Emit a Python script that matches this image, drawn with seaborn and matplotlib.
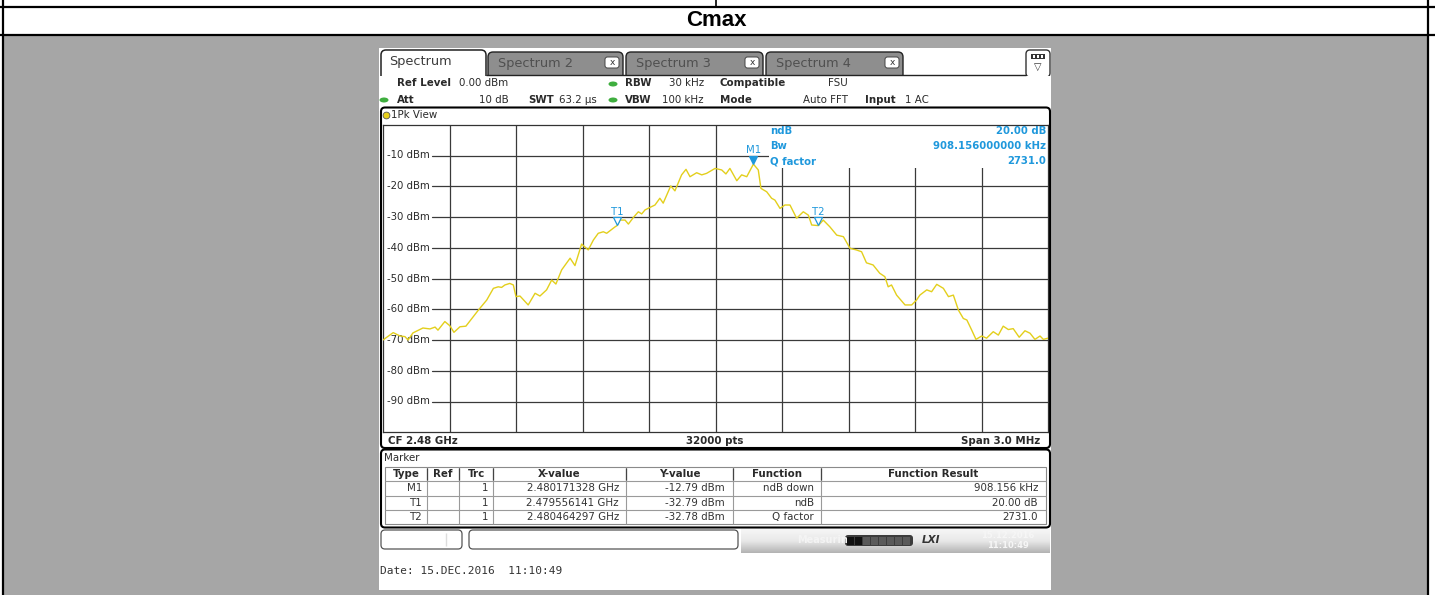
import matplotlib
matplotlib.use("Agg")
import matplotlib.pyplot as plt
import matplotlib.patches as mpatches
import matplotlib.transforms as mtransforms
import numpy as np
import seaborn as sns

# trace: offset from CF 2.48 GHz (kHz) and level (dBm)
freq_khz = [-1500, -1454, -1423, -1401, -1387, -1365, -1320, -1288, -1265, -1252,
            -1221, -1198, -1180, -1153, -1126, -1070, -1032, -1002, -980, -965,
            -950, -928, -912, -900, -882, -845, -814, -792, -762, -739,
            -720, -694, -656, -634, -604, -574, -551, -529, -506, -491,
            -453, -444, -431, -408, -393, -371, -348, -333, -318, -296,
            -273, -251, -236, -202, -183, -153, -133, -115, -85, -62,
            -40, -2, 28, 47, 65, 96, 118, 141, 171, 193,
            205, 231, 253, 268, 291, 313, 336, 366, 396, 419,
            434, 464, 486, 516, 547, 577, 607, 635, 659, 681,
            711, 741, 764, 779, 794, 817, 855, 885, 907, 922,
            953, 975, 998, 1028, 1051, 1073, 1096, 1118, 1134, 1156,
            1175, 1201, 1223, 1253, 1276, 1298, 1321, 1343, 1370, 1396,
            1419, 1441, 1464, 1479, 1500]
level_dbm = [-70.0, -67.6, -68.7, -68.9, -70.0, -67.7, -66.1, -66.4, -65.8, -66.8,
             -64.0, -65.4, -67.5, -65.7, -65.5, -60.3, -57.0, -53.2, -52.7, -52.9,
             -52.1, -51.6, -52.1, -55.9, -55.7, -58.6, -54.8, -55.7, -53.7, -50.5,
             -51.8, -47.2, -43.4, -45.8, -38.8, -40.7, -37.5, -35.3, -34.8, -35.3,
             -33.2, -32.8, -31.0, -31.0, -32.3, -30.2, -28.3, -29.0, -27.7, -26.9,
             -26.1, -23.9, -25.5, -19.9, -21.5, -16.3, -14.5, -16.9, -15.6, -16.3,
             -15.8, -14.2, -14.7, -16.0, -14.2, -18.2, -16.3, -16.9, -12.8, -14.7,
             -20.7, -21.8, -23.9, -24.5, -27.2, -26.1, -26.1, -30.4, -28.3, -29.4,
             -32.6, -32.8, -31.0, -33.2, -35.9, -36.4, -40.2, -40.7, -41.3, -44.9,
             -45.6, -48.3, -49.4, -52.7, -52.1, -55.4, -58.6, -58.6, -57.0, -55.4,
             -53.7, -54.3, -51.9, -53.2, -55.9, -55.4, -60.3, -63.0, -63.5, -66.8,
             -69.8, -68.7, -69.4, -67.3, -68.4, -65.5, -66.6, -66.3, -69.1, -67.0,
             -67.8, -69.8, -68.7, -69.8, -69.4]

x_grid_khz = [-1200, -900, -600, -300, 0, 300, 600, 900, 1200]
y_grid_dbm = [-10, -20, -30, -40, -50, -60, -70, -80, -90]

marker_names = ["M1", "T1", "T2"]
marker_khz = [171.328, -443.859, 464.297]
marker_dbm = [-12.79, -32.79, -32.78]
marker_filled = [True, False, False]

# marker table
tbl_headers = ["Type", "Ref", "Trc", "X-value", "Y-value", "Function", "Function Result"]
tbl_type = ["M1", "T1", "T2"]
tbl_ref = ["", "", ""]
tbl_trc = ["1", "1", "1"]
tbl_x = ["2.480171328 GHz", "2.479556141 GHz", "2.480464297 GHz"]
tbl_y = ["-12.79 dBm", "-32.79 dBm", "-32.78 dBm"]
tbl_func = ["ndB down", "ndB", "Q factor"]
tbl_result = ["908.156 kHz", "20.00 dB", "2731.0"]

info_names = ["ndB", "Bw", "Q factor"]
info_values = ["20.00 dB", "908.156000000 kHz", "2731.0"]

tab_names = ["Spectrum", "Spectrum 2", "Spectrum 3", "Spectrum 4"]

sns.set_style("white")
plt.rcParams["font.family"] = ["DejaVu Sans"]

W, H = 1435, 595
fig = plt.figure(figsize=(W / 100, H / 100), dpi=100)
fig.patch.set_facecolor("white")
bg = fig.add_axes([0, 0, 1, 1])
bg.set_xlim(0, W)
bg.set_ylim(H, 0)
bg.axis("off")
bg.set_zorder(0)

BLUE = "#1f98dc"
INK = "#2a2a2a"


def box(x0, y0, x1, y1, fc="white", ec="none", lw=1.0, r=0, z=1):
    if r:
        p = mpatches.FancyBboxPatch((x0, y0), x1 - x0, y1 - y0,
                                    boxstyle=f"round,pad=0,rounding_size={r}",
                                    fc=fc, ec=ec, lw=lw, zorder=z)
    else:
        p = mpatches.Rectangle((x0, y0), x1 - x0, y1 - y0, fc=fc, ec=ec, lw=lw, zorder=z)
    bg.add_patch(p)


def txt(x, y, s, size=7.4, weight="normal", color=INK, ha="left", family="DejaVu Sans", z=6, **kw):
    bg.text(x, y, s, fontsize=size, fontweight=weight, color=color, ha=ha, va="center",
            family=family, zorder=z, **kw)


def line(xs, ys, color="black", lw=1.0, z=3):
    bg.plot(xs, ys, color=color, lw=lw, zorder=z, solid_capstyle="butt")


# ---- document table around the screenshot ----
box(3, 36, 1428, 595, fc="#a6a6a6", z=0)
line([0, W], [7, 7], lw=1.6)
line([0, W], [35, 35], lw=1.6)
line([3, 3], [0, H], lw=1.6)
line([1428, 1428], [0, H], lw=1.6)
line([716, 716], [0, 7], lw=1.2)
txt(716, 21, "Cmax", size=16, weight="bold", color="black", ha="center",
    family="Liberation Sans")

# ---- screenshot canvas ----
box(379, 48, 1051, 590, fc="white", z=1)

# tabs
tab_x = [(381, 486), (488, 623), (626, 763), (766, 903)]
for i, (name, (a, b)) in enumerate(zip(tab_names, tab_x)):
    if i == 0:
        continue
    box(a, 52, b, 90, fc="#8e8e8e", ec="#222222", lw=1.0, r=5, z=2)
    txt(a + 10, 63, name, size=9.3, color="#505050", z=3)
    box(b - 18, 57, b - 4, 68, fc="white", ec="#444444", lw=0.7, r=2.5, z=3)
    txt(b - 11, 62.5, "x", size=6.5, color="#333333", ha="center", z=4)
a, b = tab_x[0]
box(a, 50, b, 90, fc="white", ec="#222222", lw=1.1, r=5, z=2.5)
txt(a + 8, 62, tab_names[0], size=9.3, color="#3c3c3c", z=3)
box(379.5, 75.6, 1050.5, 106, fc="white", z=4)
line([486, 1026], [75.3, 75.3], color="#222222", lw=1.0, z=4)
# menu icon
box(1026, 50, 1050, 77, fc="white", ec="#333333", lw=1.0, r=4, z=2)
box(1031, 54, 1045, 59, fc="#333333", z=3)
for k in range(3):
    box(1032.5 + 4 * k, 55.3, 1035 + 4 * k, 57.7, fc="white", z=3.5)
txt(1038, 67, "\u25bd", size=7, color="#333333", ha="center", z=3)

# settings header
for cx, cy in [(384, 100), (613, 84), (613, 100)]:
    bg.add_patch(mpatches.Ellipse((cx, cy), 9, 5, fc="#3fae3f", ec="none", zorder=6))
txt(397, 83.5, "Ref Level", weight="bold")
txt(459, 83.5, "0.00 dBm")
txt(625, 83.5, "RBW", weight="bold")
txt(704, 83.5, "30 kHz", ha="right")
txt(720, 83.5, "Compatible", weight="bold")
txt(848, 83.5, "FSU", ha="right")
txt(397, 100, "Att", weight="bold")
txt(509, 100, "10 dB", ha="right")
txt(528, 100, "SWT", weight="bold")
txt(559, 100, "63.2 \u00b5s")
txt(625, 100, "VBW", weight="bold")
txt(704, 100, "100 kHz", ha="right")
txt(720, 100, "Mode", weight="bold")
txt(848, 100, "Auto FFT", ha="right")
txt(865, 100, "Input", weight="bold")
txt(905, 100, "1 AC")

# diagram frame
box(381, 107.5, 1050, 448, fc="white", ec="black", lw=1.5, r=4, z=2)
bg.add_patch(mpatches.Circle((386.5, 115.5), 3.4, fc="#e6cf1a", ec="#555555", lw=0.6, zorder=6))
txt(391, 115.5, "1Pk View")
txt(388, 440.5, "CF 2.48 GHz", weight="bold")
txt(715, 440.5, "32000 pts", weight="bold", ha="center")
txt(1040, 440.5, "Span 3.0 MHz", weight="bold", ha="right")

# ---- trace diagram ----
ax = fig.add_axes([383 / W, 1 - 432.25 / H, 665 / W, 307.5 / H])
ax.set_zorder(1)
ax.set_facecolor("white")
for v in x_grid_khz:
    ax.axvline(v, color="#3a3a3a", lw=0.9, zorder=1)
for v in y_grid_dbm:
    ax.axhline(v, xmin=0.074, color="#3a3a3a", lw=0.9, zorder=1)
ax.add_patch(mpatches.Rectangle((0.58, 0.859), 0.42, 0.141, transform=ax.transAxes,
                                fc="white", ec="none", zorder=2))
lab_tr = mtransforms.blended_transform_factory(ax.transAxes, ax.transData)
for v in y_grid_dbm:
    ax.text(0.006, v, f"{v} dBm", transform=lab_tr, fontsize=7.3, color=INK,
            va="center", ha="left", zorder=3)

sns.lineplot(x=freq_khz, y=level_dbm, ax=ax, color="#e3cf1c", lw=1.0, zorder=4,
             estimator=None, sort=False)

tri_tr = mtransforms.offset_copy(ax.transData, fig=fig, x=0, y=4.5, units="dots")
for name, fx, fy, filled in zip(marker_names, marker_khz, marker_dbm, marker_filled):
    ax.plot([fx], [fy], marker="v", ms=5.5, mew=0.9, mec=BLUE,
            mfc=BLUE if filled else "white", transform=tri_tr, zorder=6, clip_on=False)
    ax.annotate(name, (fx, fy), xytext=(0, 10), textcoords="offset points",
                ha="center", va="center", fontsize=7.3, color=BLUE, zorder=6)

for k, (n, v) in enumerate(zip(info_names, info_values)):
    ax.text(770, 131 + 15 * k, n, transform=bg.transData, fontsize=7.3, fontweight="bold",
            color=BLUE, va="center", ha="left", zorder=6)
    ax.text(1046, 131 + 15 * k, v, transform=bg.transData, fontsize=7.3, fontweight="bold",
            color=BLUE, va="center", ha="right", zorder=6)

ax.set_xlim(-1500, 1500)
ax.set_ylim(-100, 0)
ax.set_xticks([])
ax.set_yticks([])
ax.set_xlabel("")
ax.set_ylabel("")
for s in ax.spines.values():
    s.set_color("#333333")
    s.set_linewidth(0.9)

# ---- marker table ----
box(381, 449.5, 1050, 527.5, fc="white", ec="black", lw=1.5, r=4, z=2)
txt(384, 458, "Marker")
box(385, 466.5, 1046, 523.5, fc="white", ec="#8a8a8a", lw=0.8, z=3)
for yy in [481, 495.5, 510]:
    line([385, 1046], [yy, yy], color="#9a9a9a", lw=0.8, z=4)
col_edges = [385, 427, 459, 493, 626, 733, 821, 1046]
for xx in col_edges[1:-1]:
    line([xx, xx], [466.5, 523.5], color="#9a9a9a", lw=0.8, z=4)
    line([xx, xx], [468, 480], color="#444444", lw=0.9, z=4)
for k, hname in enumerate(tbl_headers):
    txt((col_edges[k] + col_edges[k + 1]) / 2, 474, hname, weight="bold", ha="center")
row_y = [488, 502.5, 517]
cols = [tbl_type, tbl_ref, tbl_trc, tbl_x, tbl_y, tbl_func, tbl_result]
right_pad = [5, 5, 5, 7, 8, 7, 8]
for k, col in enumerate(cols):
    for r, s in zip(row_y, col):
        txt(col_edges[k + 1] - right_pad[k], r, s, ha="right", color="#333333")

# ---- status bar ----
box(381, 530, 462, 549, fc="white", ec="#555555", lw=0.9, r=4, z=2)
line([446, 446], [533, 546], color="#dddddd", lw=1.0, z=3)
box(469, 530, 738, 549, fc="white", ec="#555555", lw=0.9, r=4, z=2)
grad = np.linspace(0, 1, 30)[:, None]
bg.imshow(grad, extent=(741, 1050, 529, 553), cmap=matplotlib.colors.LinearSegmentedColormap.from_list(
    "bar", ["#b4b4b4", "#e8e8e8", "#f6f6f6"]), aspect="auto", zorder=2, origin="upper")
bg.set_xlim(0, W)
bg.set_ylim(H, 0)
txt(797, 540, "Measuring...", size=7, color="#f4f4f4", weight="bold", z=4)
box(845, 535, 913, 546, fc="#3c3c3c", ec="none", r=3, z=3)
for k in range(8):
    box(847 + 8 * k, 536.5, 853.5 + 8 * k, 544.5, fc="#111111" if k < 2 else "#5a5a5a", z=4)
txt(931, 540, "LXI", size=7.5, color="#333333", weight="bold", style="italic", ha="center", z=4)
txt(1008, 535, "15.12.2016", size=6, color="#f6f6f6", weight="bold", ha="center", z=4)
txt(1008, 545, "11:10:49", size=6, color="#f6f6f6", weight="bold", ha="center", z=4)

txt(380, 571, "Date: 15.DEC.2016  11:10:49", size=8, color="#333333",
    family="DejaVu Sans Mono")

fig.savefig("out.png", dpi=100)
